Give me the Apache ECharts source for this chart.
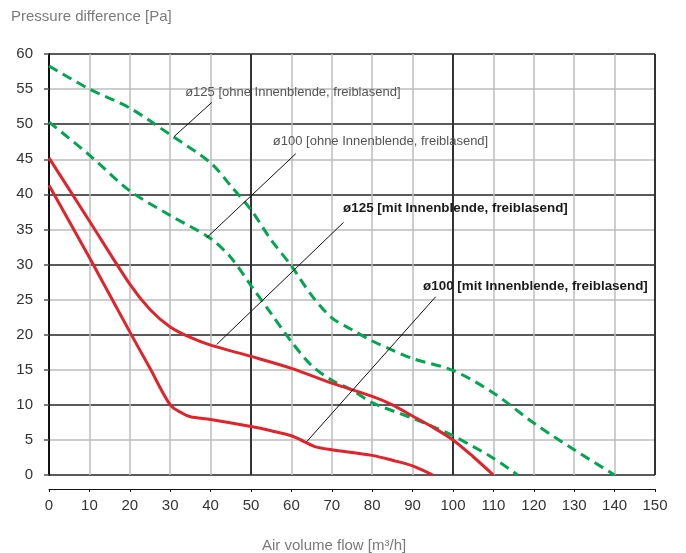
<!DOCTYPE html>
<html><head><meta charset="utf-8">
<script src="https://cdn.jsdelivr.net/npm/echarts@6/dist/echarts.min.js"></script>
<style>html,body{margin:0;padding:0;background:#fff}#c{width:686px;height:553px}</style>
</head><body><div id="c"></div>
<script>
// Tick labels
const xTickLabels = [0,10,20,30,40,50,60,70,80,90,100,110,120,130,140,150];
const yTickLabels = [0,5,10,15,20,25,30,35,40,45,50,55,60];

// ø125 ohne Innenblende (green dashed)
const g125_x = [0,10,20,30,40,45,50,55,60,65,70,75,80,85,90,100,110,120,130,140];
const g125_y = [58.3,55.0,52.3,48.5,44.5,41.2,37.8,33.5,29.8,25.6,22.4,20.7,19.1,17.8,16.6,14.9,11.7,7.4,3.6,0];
// ø100 ohne Innenblende (green dashed)
const g100_x = [0,10,20,30,40,45,50,55,60,65,70,75,80,90,95,100,110,116];
const g100_y = [50.3,45.6,40.5,37.0,33.7,31.0,27.0,23.0,19.0,15.6,13.5,12.1,10.3,8.1,6.9,5.6,2.4,0];
// ø125 mit Innenblende (red)
const r125_x = [0,10,20,25,30,35,40,50,60,70,80,85,90,95,100,105,110];
const r125_y = [45.2,36.2,27.2,23.6,21.1,19.6,18.5,16.9,15.2,13.1,11.2,10.0,8.4,6.8,5.0,2.6,0];
// ø100 mit Innenblende (red)
const r100_x = [0,10,20,25,30,33,35,40,50,55,60,63,66,70,80,85,90,95];
const r100_y = [41.3,31.0,20.4,15.2,10.0,8.8,8.3,7.9,6.9,6.3,5.6,4.8,4.0,3.6,2.8,2.1,1.3,0];

// Annotations
const annoTexts = ['ø125 [ohne Innenblende, freiblasend]','ø100 [ohne Innenblende, freiblasend]','ø125 [mit Innenblende, freiblasend]','ø100 [mit Innenblende, freiblasend]'];
const annoBold = [false,false,true,true];
const annoTextPos = [[33.7,54.5],[55.4,47.5],[72.8,38.05],[92.6,26.9]];
const leaderFrom = [[30.9,48.2],[39.0,33.8],[41.5,18.6],[63.8,4.75]];
const leaderTo = [[40.3,53.1],[61.1,45.8],[72.9,36.0],[95.7,25.4]];

const zip = (xs, ys) => xs.map((x, i) => [x, ys[i]]);

const chart = echarts.init(document.getElementById('c'), null, {renderer: 'canvas'});
const FONT = 'Liberation Sans, Arial, sans-serif';
const RED = '#e3232b', GREEN = '#00a650';

chart.setOption({
  animation: false,
  backgroundColor: '#fff',
  title: [
    {text: 'Pressure difference [Pa]', left: 11, top: 9, padding: 0,
     textStyle: {fontFamily: FONT, fontSize: 15, fontWeight: 'normal', color: '#7a7a7a'}},
    {text: 'Air volume flow [m³/h]', left: 262, top: 538, padding: 0,
     textStyle: {fontFamily: FONT, fontSize: 15, fontWeight: 'normal', color: '#7a7a7a'}}
  ],
  grid: {left: 49, right: 31, top: 54, bottom: 78, containLabel: false},
  xAxis: [
    {type: 'value', min: 0, max: 150, interval: 10, position: 'bottom', offset: 14,
     axisLine: {show: true, onZero: false, lineStyle: {color: '#111', width: 1}},
     axisTick: {show: true, length: 3, lineStyle: {color: '#111', width: 1}},
     axisLabel: {show: true, margin: 9, fontFamily: FONT, fontSize: 15, color: '#333',
       formatter: v => xTickLabels.includes(v) ? String(v) : ''},
     splitLine: {show: true, lineStyle: {color: '#bdbdbd', width: 1.5}}},
    {type: 'value', min: 0, max: 150, interval: 50, position: 'top',
     axisLine: {show: false}, axisTick: {show: false}, axisLabel: {show: false},
     splitLine: {show: true, lineStyle: {color: '#333', width: 2}}}
  ],
  yAxis: [
    {type: 'value', min: 0, max: 60, interval: 5, position: 'left',
     axisLine: {show: true, onZero: false, lineStyle: {color: '#111', width: 2}},
     axisTick: {show: true, length: 5, lineStyle: {color: '#555', width: 1.5}},
     axisLabel: {show: true, margin: 16, fontFamily: FONT, fontSize: 15, color: '#333',
       formatter: v => yTickLabels.includes(v) ? String(v) : ''},
     splitLine: {show: true, lineStyle: {color: '#bdbdbd', width: 1.5}}},
    {type: 'value', min: 0, max: 60, interval: 10, position: 'right',
     axisLine: {show: false}, axisTick: {show: false}, axisLabel: {show: false},
     splitLine: {show: true, lineStyle: {color: '#333', width: 1.5}}}
  ],
  series: [
    {name: 'g125', type: 'line', data: zip(g125_x, g125_y), smooth: 0.3, showSymbol: false, symbol: 'none',
     lineStyle: {color: GREEN, width: 3, type: [10, 6]}, z: 3},
    {name: 'g100', type: 'line', data: zip(g100_x, g100_y), smooth: 0.3, showSymbol: false, symbol: 'none',
     lineStyle: {color: GREEN, width: 3, type: [10, 6]}, z: 3},
    {name: 'r125', type: 'line', data: zip(r125_x, r125_y), smooth: 0.3, showSymbol: false, symbol: 'none',
     lineStyle: {color: RED, width: 3}, z: 4},
    {name: 'r100', type: 'line', data: zip(r100_x, r100_y), smooth: 0.3, showSymbol: false, symbol: 'none',
     lineStyle: {color: RED, width: 3}, z: 4},
    {name: 'annotations', type: 'line', data: [], z: 5,
     markLine: {silent: true, symbol: ['none', 'none'], animation: false,
       lineStyle: {color: '#111', width: 1, type: 'solid'}, label: {show: false},
       data: leaderFrom.map((p, i) => [{coord: p}, {coord: leaderTo[i]}])},
     markPoint: {silent: true, animation: false, symbol: 'circle', symbolSize: 0,
       data: annoTextPos.map((p, i) => ({coord: p, symbolSize: 0,
         label: {show: true, position: 'right', distance: 0, formatter: annoTexts[i],
           fontFamily: FONT, fontSize: annoBold[i] ? 13.4 : 13,
           fontWeight: annoBold[i] ? 'bold' : 'normal',
           color: annoBold[i] ? '#1a1a1a' : '#555'}}))}}
  ]
});
</script></body></html>
